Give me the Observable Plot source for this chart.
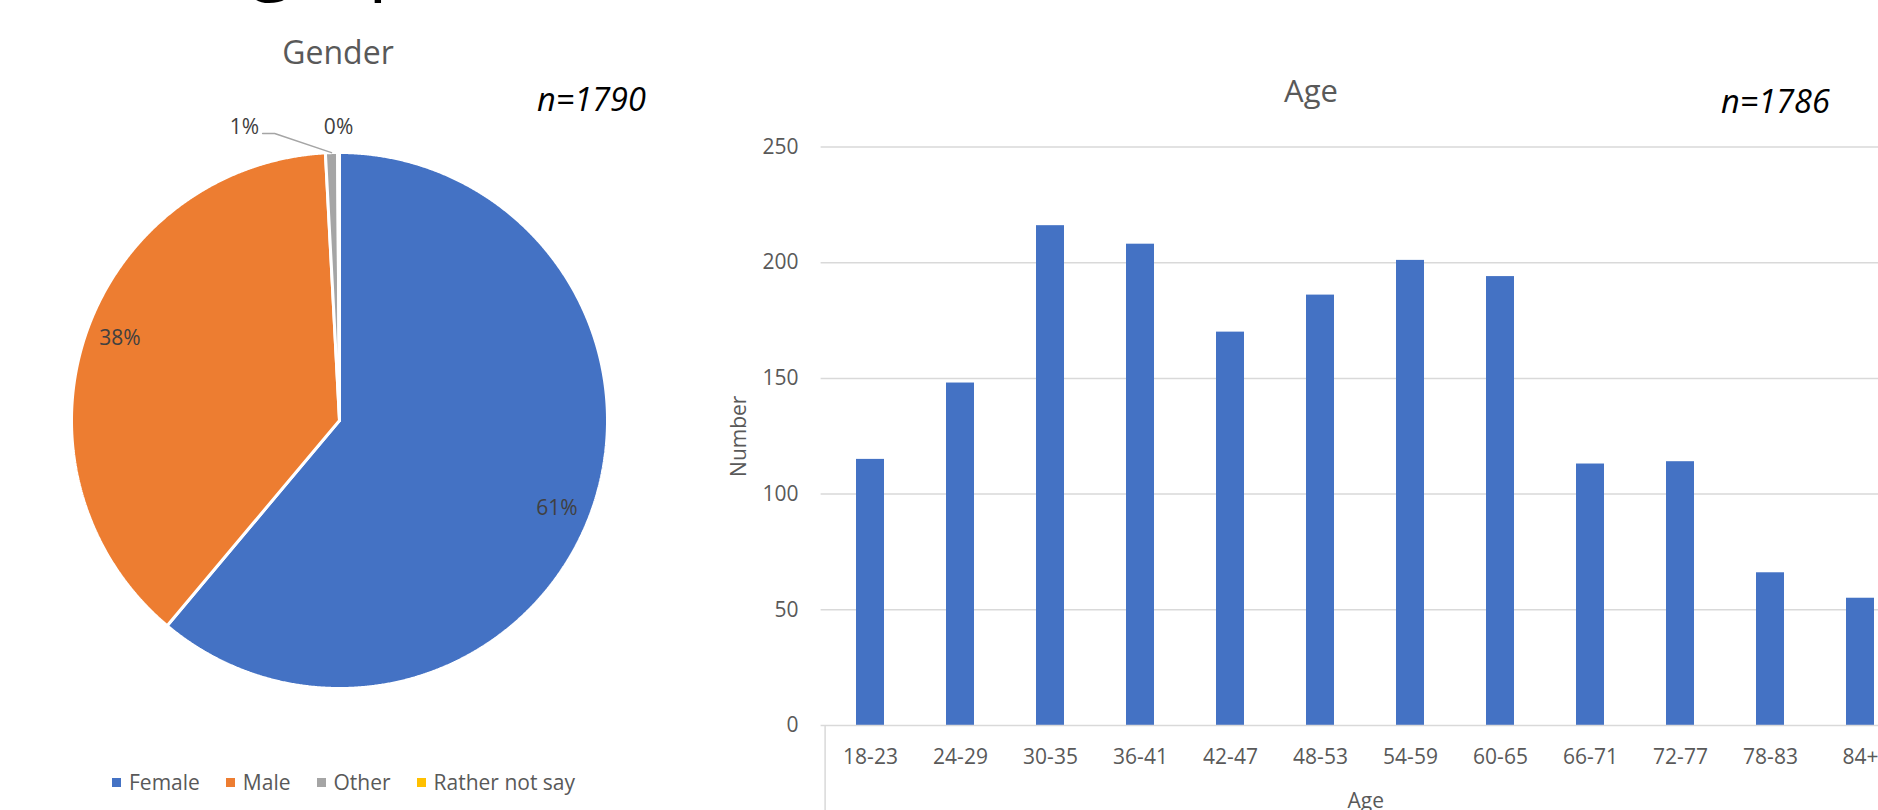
<!DOCTYPE html>
<html><head><meta charset="utf-8">
<script src="https://cdn.jsdelivr.net/npm/d3@7"></script>
<script src="https://cdn.jsdelivr.net/npm/@observablehq/plot@0.6"></script>
<style>
html,body{margin:0;padding:0;background:#fff;}
body{width:1878px;height:810px;overflow:hidden;position:relative;font-family:"Open Sans",sans-serif;}
.abs{position:absolute;white-space:nowrap;line-height:1;}
.legend{position:absolute;display:flex;align-items:center;font-size:21px;color:#595959;line-height:1;}
.legend .item{display:flex;align-items:center;margin-right:26px;}
.legend .sw{width:9px;height:9px;margin-right:8px;}
</style></head><body>
<script>
// ---- data ----
const pageTitle = "Demographics";
const genderTitle = "Gender";
const genders = ["Female", "Male", "Other", "Rather not say"];
const genderCounts = [1094, 681, 13, 2];
const genderColors = ["#4472C4", "#ED7D31", "#A5A5A5", "#FFC000"];
const genderN = 1790;

const ageTitle = "Age";
const ageGroups = ["18-23","24-29","30-35","36-41","42-47","48-53","54-59","60-65","66-71","72-77","78-83","84+"];
const ageCounts = [115, 148, 216, 208, 170, 186, 201, 194, 113, 114, 66, 55];
const ageTicks = [0, 50, 100, 150, 200, 250];
const ageN = 1786;

// ---- helpers ----
function addDiv(text, css, cls = "abs") {
  const d = document.createElement("div");
  d.className = cls;
  d.textContent = text;
  Object.assign(d.style, css);
  document.body.appendChild(d);
  return d;
}

// ---- page title (cut off at top, as in the source slide) ----
addDiv(pageTitle, {left: "31px", top: "-85px", fontSize: "78px", color: "#000"});

// ---- Gender pie ----
addDiv(genderTitle, {left: "338px", top: "36px", fontSize: "32px", color: "#595959", transform: "translateX(-50%)"});
addDiv("n=" + genderN, {left: "537px", top: "83px", fontSize: "32.5px", fontStyle: "italic", color: "#000"});

const arcs = d3.pie().sort(null)(genderCounts);
const slices = arcs.map((a, i) => {
  const pts = [{x: 0, y: 0}];
  const n = Math.max(2, Math.ceil((a.endAngle - a.startAngle) / (Math.PI / 720)));
  for (let j = 0; j <= n; j++) {
    const t = a.startAngle + (a.endAngle - a.startAngle) * j / n;
    pts.push({x: Math.sin(t), y: Math.cos(t)});
  }
  pts.push({x: 0, y: 0});
  return pts;
});
const labelShift = 0.035; // Excel "best fit" nudges labels slightly clockwise
const labels = arcs.map((a, i) => {
  const mid = (a.startAngle + a.endAngle) / 2;
  const share = genderCounts[i] / genderN;
  const big = share > 0.05;
  const ang = big ? mid + labelShift : mid;
  const r = big ? 0.875 : 1.093;
  return {
    g: genders[i], mid, big,
    x: Math.sin(ang) * (big ? r : 1),
    y: big ? Math.cos(ang) * r : r,
    text: Math.round(share * 100) + "%"
  };
});
// leader for "Other"
const oth = labels[2];
const leader = [
  {x: Math.sin(oth.mid), y: Math.cos(oth.mid)},
  {x: Math.sin(oth.mid) * 1.07 - 0.21, y: 1.071},
  {x: Math.sin(oth.mid) * 1.07 - 0.255, y: 1.071}
];

const pie = Plot.plot({
  width: 560, height: 560,
  margin: 12,
  x: {domain: [-1, 1], axis: null},
  y: {domain: [-1, 1], axis: null},
  style: {fontFamily: "Open Sans", overflow: "visible", background: "transparent"},
  marks: [
    ...slices.map((pts, i) => Plot.line(pts, {x: "x", y: "y", fill: genderColors[i], stroke: "white", strokeWidth: 3, strokeLinejoin: "miter"})),
    Plot.line(leader, {x: "x", y: "y", stroke: "#A5A5A5", strokeWidth: 1.5}),
    Plot.text(labels.filter(d => d.big), {x: "x", y: "y", text: "text", fontSize: 21, fill: "#404040"}),
    Plot.text([labels[2]], {x: "x", y: "y", text: "text", fontSize: 21, fill: "#404040", dx: -87}),
    Plot.text([labels[3]], {x: "x", y: "y", text: "text", fontSize: 21, fill: "#404040", dx: 0})
  ]
});
Object.assign(pie.style, {position: "absolute", left: "59px", top: "140px"});
document.body.appendChild(pie);

// legend
const leg = document.createElement("div");
leg.className = "legend";
Object.assign(leg.style, {left: "112px", top: "772px"});
genders.forEach((g, i) => {
  const it = document.createElement("div");
  it.className = "item";
  const sw = document.createElement("span");
  sw.className = "sw";
  sw.style.background = genderColors[i];
  const t = document.createElement("span");
  t.textContent = g;
  it.appendChild(sw); it.appendChild(t);
  leg.appendChild(it);
});
document.body.appendChild(leg);

// ---- Age bars ----
addDiv(ageTitle, {left: "1311px", top: "75px", fontSize: "31px", color: "#595959", transform: "translateX(-50%)"});
addDiv("n=" + ageN, {left: "1721px", top: "85px", fontSize: "32.5px", fontStyle: "italic", color: "#000"});

const ages = ageGroups.map((a, i) => ({age: a, count: ageCounts[i]}));
const bars = Plot.plot({
  width: 1230, height: 810,
  marginLeft: 120.6, marginRight: 20, marginTop: 146.5, marginBottom: 85,
  x: {domain: ageGroups, paddingInner: 0.686, paddingOuter: 0.343},
  y: {domain: [0, 250]},
  style: {fontFamily: "Open Sans", fontSize: "21px", color: "#595959", background: "transparent", overflow: "visible"},
  marks: [
    Plot.gridY(ageTicks.filter(t => t > 0), {stroke: "#d9d9d9", strokeOpacity: 1, strokeWidth: 1.5}),
    Plot.barY(ages, {x: "age", y: "count", fill: "#4472C4"}),
    Plot.ruleY([0], {stroke: "#d9d9d9", strokeWidth: 1.5}),
    Plot.ruleX([ageGroups[0]], {x: d => d, dx: -45.4, y1: 0, y2: -40, stroke: "#d9d9d9", strokeWidth: 1.5}),
    Plot.axisY(ageTicks, {tickSize: 0, tickPadding: 22.6, fontSize: 21, fill: "#595959", label: "Number", labelAnchor: "center", labelArrow: "none", labelOffset: 90}),
    Plot.axisX({tickSize: 0, tickPadding: 24, fontSize: 21, fill: "#595959", label: "Age", labelAnchor: "center", labelArrow: "none", labelOffset: 82})
  ]
});
Object.assign(bars.style, {position: "absolute", left: "700px", top: "0px"});
document.body.appendChild(bars);
</script>
</body></html>
